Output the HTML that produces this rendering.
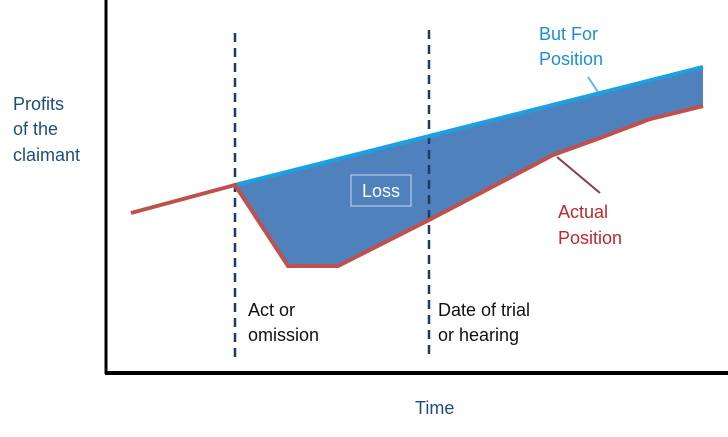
<!DOCTYPE html>
<html><head><style>
body{margin:0;background:#fff;}
svg text{font-family:"Liberation Sans",sans-serif;}
</style></head><body>
<svg width="728" height="432" viewBox="0 0 728 432" xmlns="http://www.w3.org/2000/svg">
<rect width="728" height="432" fill="#fff"/>
<polygon points="235,185 703,67 703,106 650,119 600,138 553,155 429,220 338,266 288,266" fill="#4f81bd"/>
<line x1="235" y1="33" x2="235" y2="363" stroke="#1f3a5f" stroke-width="2.5" stroke-dasharray="9,6"/>
<line x1="429" y1="30" x2="429" y2="360" stroke="#1f3a5f" stroke-width="2.5" stroke-dasharray="9,6"/>
<line x1="235" y1="185" x2="703" y2="67" stroke="#1ba1e2" stroke-width="4"/>
<polyline points="131,213 235,185 288,266 338,266 429,220 553,155 600,138 650,119 703,106" fill="none" stroke="#c0504d" stroke-width="4"/>
<line x1="588" y1="77" x2="598" y2="92" stroke="#5bb8e0" stroke-width="2"/>
<line x1="557" y1="157" x2="600" y2="193" stroke="#8b3a4a" stroke-width="2"/>
<rect x="351" y="175" width="60" height="31" fill="none" stroke="#c8d8ee" stroke-width="1"/>
<text x="381" y="197" fill="#fff" font-size="18" text-anchor="middle">Loss</text>
<line x1="106" y1="0" x2="106" y2="374" stroke="#000" stroke-width="3"/>
<line x1="105" y1="373" x2="728" y2="373" stroke="#000" stroke-width="4"/>
<g fill="#1f4e79" font-size="18">
<text x="13" y="110">Profits</text><text x="13" y="135">of the</text><text x="13" y="161">claimant</text>
<text x="415" y="414">Time</text></g>
<g fill="#1b8fd6" font-size="18"><text x="539" y="40">But For</text><text x="539" y="65">Position</text></g>
<g fill="#c0282c" font-size="18"><text x="558" y="218">Actual</text><text x="558" y="244">Position</text></g>
<g fill="#111" font-size="18"><text x="248" y="316">Act or</text><text x="248" y="341">omission</text>
<text x="438" y="316">Date of trial</text><text x="438" y="341">or hearing</text></g>
</svg>
</body></html>
